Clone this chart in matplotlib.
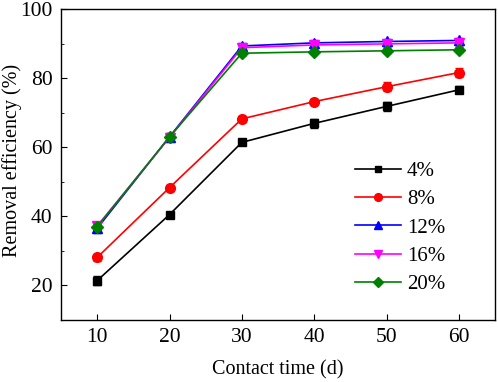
import matplotlib
matplotlib.use("Agg")
import matplotlib.pyplot as plt
from matplotlib.ticker import MultipleLocator

plt.rcParams["font.family"] = "Liberation Serif"
plt.rcParams["mathtext.fontset"] = "stix"

contact_time = [10, 20, 30, 40, 50, 60]

eff_4 = [21.4, 40.5, 61.4, 66.9, 71.8, 76.6]
eff_8 = [28.1, 48.3, 68.2, 73.2, 77.5, 81.6]
eff_12 = [36.5, 63.0, 89.3, 90.2, 90.6, 90.9]
eff_16 = [37.2, 62.8, 88.8, 89.6, 89.9, 90.2]
eff_20 = [37.0, 63.0, 87.2, 87.6, 87.9, 88.2]

err_4 = [1.2, 0.8, 0.8, 1.2, 1.2, 1.0]
err_8 = [0.9, 0.9, 0.9, 0.8, 1.3, 1.3]
err_12 = [1.3, 1.2, 0.8, 0.8, 0.8, 0.8]
err_16 = [1.0, 1.2, 0.8, 0.8, 0.8, 0.8]
err_20 = [0.8, 0.8, 0.7, 0.7, 0.7, 0.7]

labels = ["4%", "8%", "12%", "16%", "20%"]

series = [
    (eff_4, err_4, "black", "s"),
    (eff_8, err_8, "red", "o"),
    (eff_12, err_12, "blue", "^"),
    (eff_16, err_16, "magenta", "v"),
    (eff_20, err_20, "green", "D"),
]

fig = plt.figure(figsize=(4.98, 3.82), dpi=100)
ax = fig.add_axes([61 / 498, 1 - 320 / 382, 434 / 498, 311 / 382])

for (values, errors, color, marker), label in zip(series, labels):
    ms = 6 if marker in ("D", "s") else 7
    ax.errorbar(contact_time, values, yerr=errors, color=color, marker=marker,
                markersize=ms, linewidth=1.2, elinewidth=1.0, capsize=3,
                ecolor=color, label=label)

ax.set_xlim(5, 65)
ax.set_ylim(10, 100)
ax.xaxis.set_major_locator(MultipleLocator(10))
ax.yaxis.set_major_locator(MultipleLocator(20))
ax.yaxis.set_minor_locator(MultipleLocator(10))
ax.tick_params(axis="both", which="both", direction="in", labelsize=15.5)
ax.tick_params(axis="both", which="major", length=4, pad=6)
ax.tick_params(axis="y", which="minor", length=2.5)
for spine in ax.spines.values():
    spine.set_linewidth(1.0)

ax.set_xlabel("Contact time (d)", fontsize=14.5, labelpad=9)
ax.set_ylabel("Removal efficiency (%)", fontsize=14.5, va="center")
ax.yaxis.set_label_coords(-0.113, 0.514)

handles, leg_labels = ax.get_legend_handles_labels()
handles = [h[0] for h in handles]
ax.legend(handles, leg_labels, loc="upper left", bbox_to_anchor=(0.677, 0.51),
          frameon=False, fontsize=15, handlelength=2.2, labelspacing=0.42,
          handletextpad=0.3, borderpad=0, borderaxespad=0, markerscale=0.8)

fig.savefig("out.png", dpi=100)
